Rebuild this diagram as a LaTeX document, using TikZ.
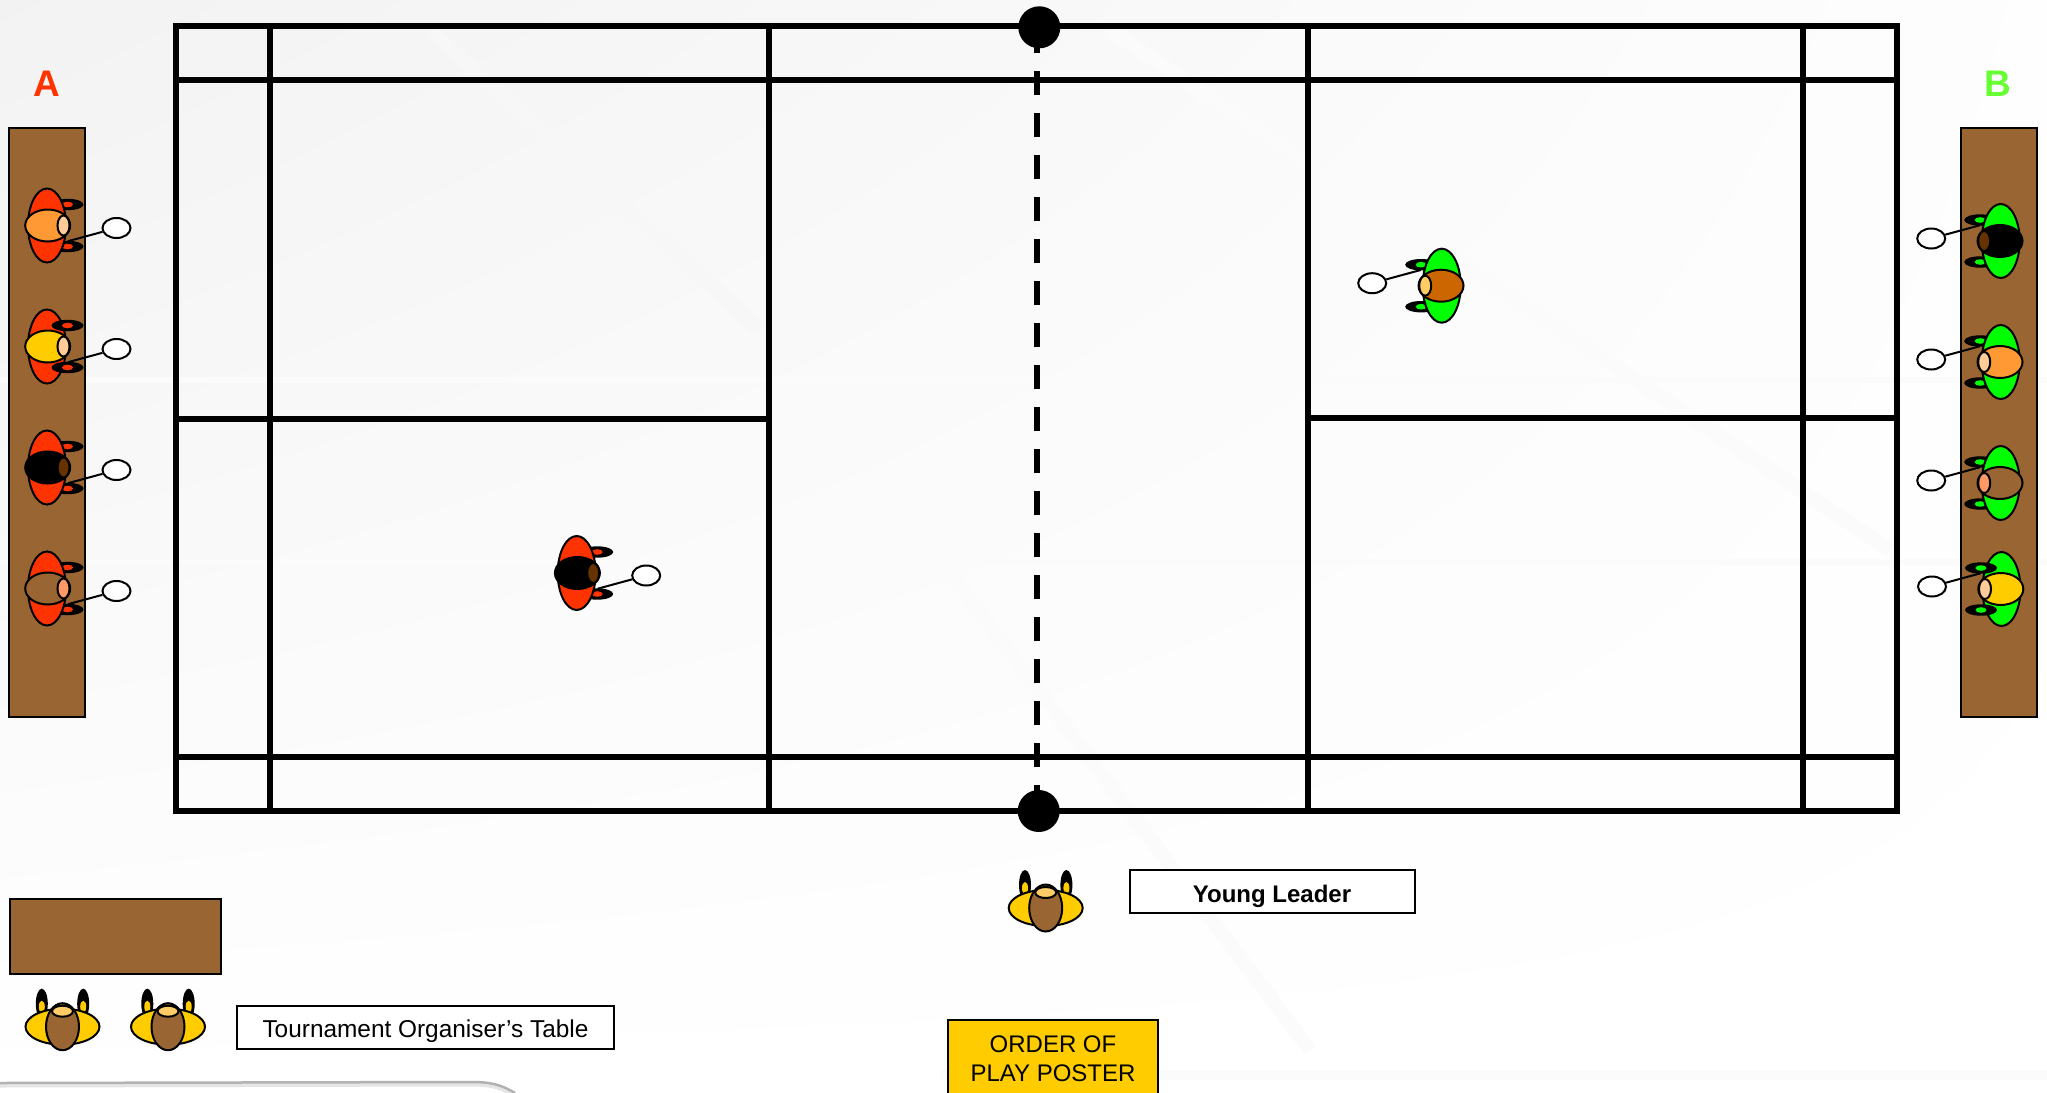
\documentclass[tikz,border=0pt]{standalone}
\usepackage{fontspec}
\setmainfont{Liberation Sans}
\usetikzlibrary{shapes.geometric,shadings}
\definecolor{wood}{HTML}{996633}
\definecolor{teamA}{HTML}{FF3300}
\definecolor{teamB}{HTML}{00FF00}
\definecolor{labelB}{HTML}{66FF33}
\definecolor{gold}{HTML}{FFCC00}
\definecolor{orangehair}{HTML}{FF9933}
\definecolor{rust}{HTML}{CC6600}
\definecolor{peach}{HTML}{FFCC99}
\definecolor{salmon}{HTML}{FF9966}
\definecolor{darkface}{HTML}{663300}
\definecolor{sand}{HTML}{FFCC66}
\tikzset{
  courtline/.style={line width=6pt,line cap=rect},
  netline/.style={line width=6pt,dash pattern=on 24pt off 18pt},
  post/.style={circle,fill=black,draw=none,minimum size=42pt,inner sep=0pt},
  tablebox/.style={draw=black,line width=2pt,fill=wood,inner sep=0pt},
  labelbox/.style={draw=black,line width=2pt,fill=white,inner sep=0pt,font=\fontsize{24}{29}\selectfont},
  outline/.style={draw=black,line width=2pt},
  racket/.style={ellipse,draw=black,line width=2pt,fill=white,minimum width=28pt,minimum height=20pt,inner sep=0pt},
  streak/.style={line width=14pt,draw=black!1.5},
  teamlabel/.style={font=\fontsize{37}{37}\selectfont\bfseries,inner sep=0pt}
}
\newcommand{\hplayerhands}[1]{%
  \path[fill=black] (20.5,-21) ellipse [x radius=16pt,y radius=5.7pt];
  \path[fill=black] (20.5,21) ellipse [x radius=16pt,y radius=5.7pt];
  \path[fill=#1] (20.5,-21) ellipse [x radius=5.5pt,y radius=2.8pt];
  \path[fill=#1] (20.5,21) ellipse [x radius=5.5pt,y radius=2.8pt];
}
% #1 name, #2 x, #3 y, #4 sign (1 faces right, -1 faces left), #5 accent, #6 hair, #7 face, #8 hands over body 0/1
\newcommand{\courtplayer}[8]{%
  \begin{scope}[shift={(#2,#3)},xscale=#4,yscale=#4]
    \ifnum#8=0 \hplayerhands{#5}\fi
    \path[outline,fill=#5] (0,0) ellipse [x radius=19pt,y radius=37pt];
    \ifnum#8=1 \hplayerhands{#5}\fi
    \coordinate (#1grip) at (21,15.7);
    \node[racket] (#1racket) at (69.5,2.5) {};
    \draw[line width=2pt] (#1grip) -- (#1racket);
    \path[outline,fill=#6] (0.7,0) ellipse [x radius=22.5pt,y radius=16pt];
    \path[outline,fill=#7] (16.5,0) ellipse [x radius=6pt,y radius=10pt];
  \end{scope}}
\newcommand{\official}[3]{%
  \begin{scope}[shift={(#2,#3)}]
    \path[fill=black] (-20.7,-23) ellipse [x radius=6pt,y radius=15pt];
    \path[fill=black] (20.7,-23) ellipse [x radius=6pt,y radius=15pt];
    \path[fill=gold] (-20.7,-20) ellipse [x radius=3pt,y radius=6pt];
    \path[fill=gold] (20.7,-20) ellipse [x radius=3pt,y radius=6pt];
    \path[outline,fill=gold] (0,0) ellipse [x radius=37pt,y radius=18pt];
    \path[outline,fill=wood] (0,0) ellipse [x radius=16.5pt,y radius=23.5pt];
    \path[outline,fill=sand] (0,-15.5) ellipse [x radius=10.5pt,y radius=5.5pt];
    \coordinate (#1) at (0,0);
  \end{scope}}
\begin{document}
\begin{tikzpicture}[x=1pt,y=-1pt]
\useasboundingbox (0,0) rectangle (2047,1092);
\clip (0,0) rectangle (2047,1092);
% background
\shade[upper left=black!5,upper right=black!0.5,lower left=white,lower right=white] (0,0) rectangle (2047,1092);
\draw[streak,draw=black!3] (430,30) -- (760,330);
\draw[streak] (1110,30) -- (1890,550);
\draw[streak] (940,560) -- (1310,1050);
\draw[streak,line width=6pt] (0,380) -- (2047,380);
\draw[streak,line width=6pt] (0,562) -- (2047,562);
\draw[streak,line width=10pt] (940,1075) -- (2047,1075);
\draw[line width=5pt,black!10] (0,1085) -- (470,1084) .. controls (490,1084) and (500,1086) .. (515,1095);
\draw[line width=2.5pt,black!30] (0,1083) -- (470,1082) .. controls (490,1082) and (500,1084) .. (515,1093);
% court
\draw[courtline] (176,26) rectangle (1897,811);
\draw[courtline] (176,79.5) -- (1897,79.5);
\draw[courtline] (176,757) -- (1897,757);
\draw[courtline] (269.5,26) -- (269.5,811);
\draw[courtline] (769,26) -- (769,811);
\draw[courtline] (1308,26) -- (1308,811);
\draw[courtline] (1803,26) -- (1803,811);
\draw[courtline] (176,419) -- (769,419);
\draw[courtline] (1308,418) -- (1897,418);
\node[post] (nettop) at (1039.3,27.3) {};
\node[post] (netbottom) at (1038.7,811) {};
\draw[netline] (1037.3,29) -- (1037.3,811);
% team labels
\node[teamlabel,text=teamA] (labA) at (47,84) {A};
\node[teamlabel,text=labelB] (labB) at (1998,84) {B};
% tables
\node[tablebox,minimum width=76pt,minimum height=589pt] (tableA) at (47.3,422.5) {};
\node[tablebox,minimum width=76pt,minimum height=589pt] (tableB) at (1998.5,422.5) {};
\node[tablebox,minimum width=211pt,minimum height=75pt] (tableO) at (115,936) {};
% team A
\courtplayer{a1}{47}{225.5}{1}{teamA}{orangehair}{peach}{0}
\courtplayer{a2}{47}{346.5}{1}{teamA}{gold}{peach}{1}
\courtplayer{a3}{47}{467.5}{1}{teamA}{black}{darkface}{0}
\courtplayer{a4}{47}{588.5}{1}{teamA}{wood}{salmon}{0}
\courtplayer{ac}{576.7}{573}{1}{teamA}{black}{darkface}{0}
% team B
\courtplayer{b1}{2000.7}{241}{-1}{teamB}{black}{darkface}{0}
\courtplayer{b2}{2000.7}{362}{-1}{teamB}{orangehair}{peach}{0}
\courtplayer{b3}{2000.7}{483}{-1}{teamB}{wood}{salmon}{0}
\courtplayer{b4}{2001.5}{589}{-1}{teamB}{gold}{peach}{1}
\courtplayer{bc}{1441.7}{285.7}{-1}{teamB}{rust}{sand}{0}
% officials
\official{org1}{62.5}{1026.7}
\official{org2}{168}{1026.7}
\official{leader}{1045.7}{908}
% labels
\node[labelbox,minimum width=377pt,minimum height=43.5pt,text height=20pt,text depth=0pt,font=\fontsize{24.4}{29}\selectfont] (orglabel) at (425.5,1027.5) {Tournament Organiser’s Table};
\node[labelbox,minimum width=285pt,minimum height=43pt,text height=21pt,text depth=0pt,font=\fontsize{24}{29}\selectfont\bfseries] (leaderlabel) at (1272,891.5) {Young Leader};
\node[labelbox,fill=gold,align=center,minimum width=210pt,minimum height=77pt] (poster) at (1053,1058.5) {ORDER OF\\PLAY POSTER};
\end{tikzpicture}
\end{document}
